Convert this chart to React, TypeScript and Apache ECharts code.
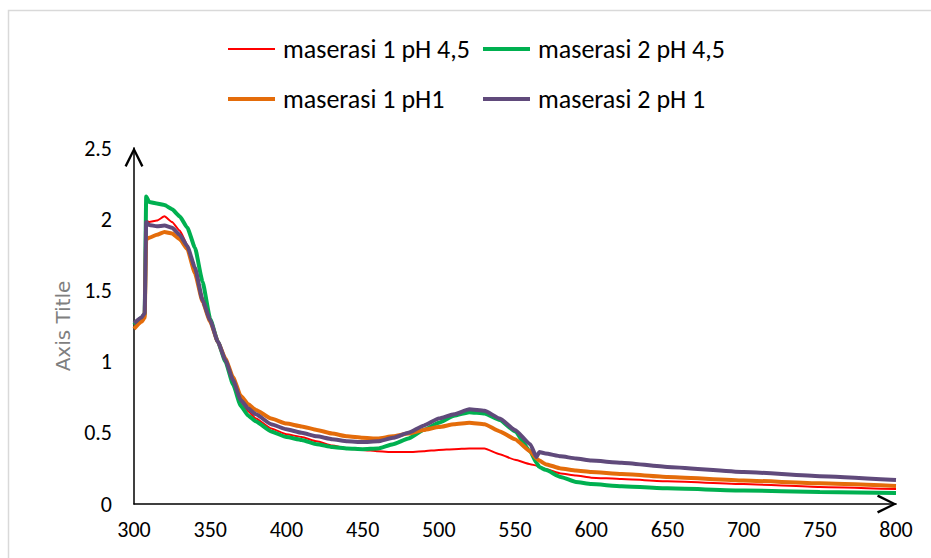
import React, { useEffect, useRef } from "react";
import * as echarts from "echarts";

const wavelengths = [300, 305, 307, 308, 310, 315, 320, 325, 330, 335, 340, 345, 350, 355, 360, 365, 370, 375, 380, 390, 400, 410, 420, 430, 440, 450, 460, 470, 480, 490, 500, 510, 520, 530, 540, 550, 560, 564, 566, 570, 580, 590, 600, 620, 650, 700, 750, 800];

const m1ph45 = [1.26, 1.30, 1.33, 1.99, 1.98, 1.99, 2.02, 1.98, 1.92, 1.82, 1.65, 1.45, 1.28, 1.13, 1.00, 0.86, 0.72, 0.65, 0.60, 0.53, 0.49, 0.47, 0.44, 0.41, 0.39, 0.38, 0.37, 0.365, 0.365, 0.37, 0.38, 0.385, 0.39, 0.39, 0.35, 0.31, 0.28, 0.27, 0.26, 0.245, 0.215, 0.20, 0.185, 0.175, 0.16, 0.14, 0.12, 0.105];

const m2ph45 = [1.26, 1.31, 1.33, 2.16, 2.12, 2.11, 2.10, 2.07, 2.02, 1.94, 1.80, 1.56, 1.30, 1.14, 1.00, 0.84, 0.69, 0.62, 0.58, 0.51, 0.47, 0.45, 0.42, 0.40, 0.39, 0.385, 0.39, 0.42, 0.46, 0.52, 0.57, 0.62, 0.645, 0.635, 0.59, 0.51, 0.37, 0.29, 0.26, 0.24, 0.19, 0.155, 0.14, 0.125, 0.11, 0.095, 0.085, 0.077];

const m1ph1 = [1.23, 1.28, 1.31, 1.86, 1.87, 1.89, 1.91, 1.90, 1.86, 1.79, 1.62, 1.42, 1.28, 1.14, 1.02, 0.89, 0.76, 0.70, 0.66, 0.60, 0.565, 0.545, 0.52, 0.495, 0.475, 0.465, 0.46, 0.475, 0.495, 0.52, 0.54, 0.56, 0.57, 0.56, 0.51, 0.455, 0.37, 0.32, 0.305, 0.28, 0.25, 0.235, 0.225, 0.21, 0.19, 0.165, 0.145, 0.126];

const m2ph1 = [1.27, 1.31, 1.34, 1.98, 1.96, 1.95, 1.955, 1.94, 1.89, 1.81, 1.66, 1.43, 1.29, 1.14, 1.01, 0.87, 0.73, 0.67, 0.63, 0.56, 0.525, 0.50, 0.475, 0.455, 0.44, 0.435, 0.44, 0.465, 0.50, 0.55, 0.60, 0.63, 0.665, 0.655, 0.60, 0.52, 0.42, 0.33, 0.365, 0.355, 0.335, 0.32, 0.305, 0.29, 0.26, 0.225, 0.195, 0.168];

const seriesNames = ["maserasi 1 pH 4,5", "maserasi 2 pH 4,5", "maserasi 1 pH1", "maserasi 2 pH 1"];
const seriesColors = ["#FF0000", "#00B050", "#E46C0A", "#604A7B"];
const seriesWidths = [2, 4, 4, 4];
const seriesValues = [m1ph45, m2ph45, m1ph1, m2ph1];

const FONT = "Carlito, Calibri, Lato, sans-serif";
const ARROW = "path://M0,10 L5,0 L10,10 L8.9,10.6 L5,2.6 L1.1,10.6 Z";

export default function App() {
  const ref = useRef<HTMLDivElement>(null);
  useEffect(() => {
    if (!ref.current) return;
    const chart = echarts.init(ref.current, undefined, { renderer: "svg" });
    const legendPos = [
      { left: 228, top: 36 },
      { left: 483, top: 36 },
      { left: 228, top: 86 },
      { left: 483, top: 86 },
    ];
    const axisLine = {
      show: true,
      lineStyle: { color: "#000000", width: 1.5 },
      symbol: ["none", ARROW],
      symbolSize: [26, 20],
      symbolOffset: [0, -9],
    };
    chart.setOption({
      animation: false,
      backgroundColor: "#ffffff",
      textStyle: { fontFamily: FONT },
      graphic: [
        {
          type: "rect",
          shape: { x: 8.5, y: 10.5, width: 1000, height: 1000 },
          style: { fill: "none", stroke: "#d9d9d9", lineWidth: 1.5 },
          silent: true,
        },
      ],
      legend: seriesNames.map((n, i) => ({
        data: [n],
        left: legendPos[i].left,
        top: legendPos[i].top,
        padding: 0,
        icon: "rect",
        itemWidth: 47,
        itemHeight: seriesWidths[i] === 2 ? 2 : 4,
        textStyle: { fontSize: 26, color: "#000000", fontFamily: FONT, padding: [0, 0, 0, 3] },
        selectedMode: false,
      })),
      grid: { left: 134, right: 35, top: 148, bottom: 54, containLabel: false },
      xAxis: {
        type: "value",
        min: 300,
        max: 800,
        interval: 50,
        splitLine: { show: false },
        axisTick: { show: false },
        axisLine,
        axisLabel: { fontSize: 22, color: "#000000", margin: 14, fontFamily: FONT },
      },
      yAxis: {
        type: "value",
        min: 0,
        max: 2.5,
        interval: 0.5,
        splitLine: { show: false },
        axisTick: { show: false },
        axisLine,
        axisLabel: { fontSize: 22, color: "#000000", margin: 22, fontFamily: FONT },
        name: "Axis Title",
        nameLocation: "middle",
        nameRotate: 90,
        nameGap: 60,
        nameTextStyle: { fontSize: 20, color: "#7f7f7f", fontFamily: "DejaVu Sans" },
      },
      series: seriesNames.map((n, i) => ({
        name: n,
        type: "line",
        showSymbol: false,
        symbol: "none",
        smooth: 0.15,
        smoothMonotone: "x",
        color: seriesColors[i],
        lineStyle: { color: seriesColors[i], width: seriesWidths[i] },
        data: wavelengths.map((w, k) => [w, seriesValues[i][k]]),
      })),
    });
    return () => chart.dispose();
  }, []);
  return (
    <div
      ref={ref}
      style={{ position: "absolute", left: 0, top: 0, width: 931, height: 558 }}
    />
  );
}
